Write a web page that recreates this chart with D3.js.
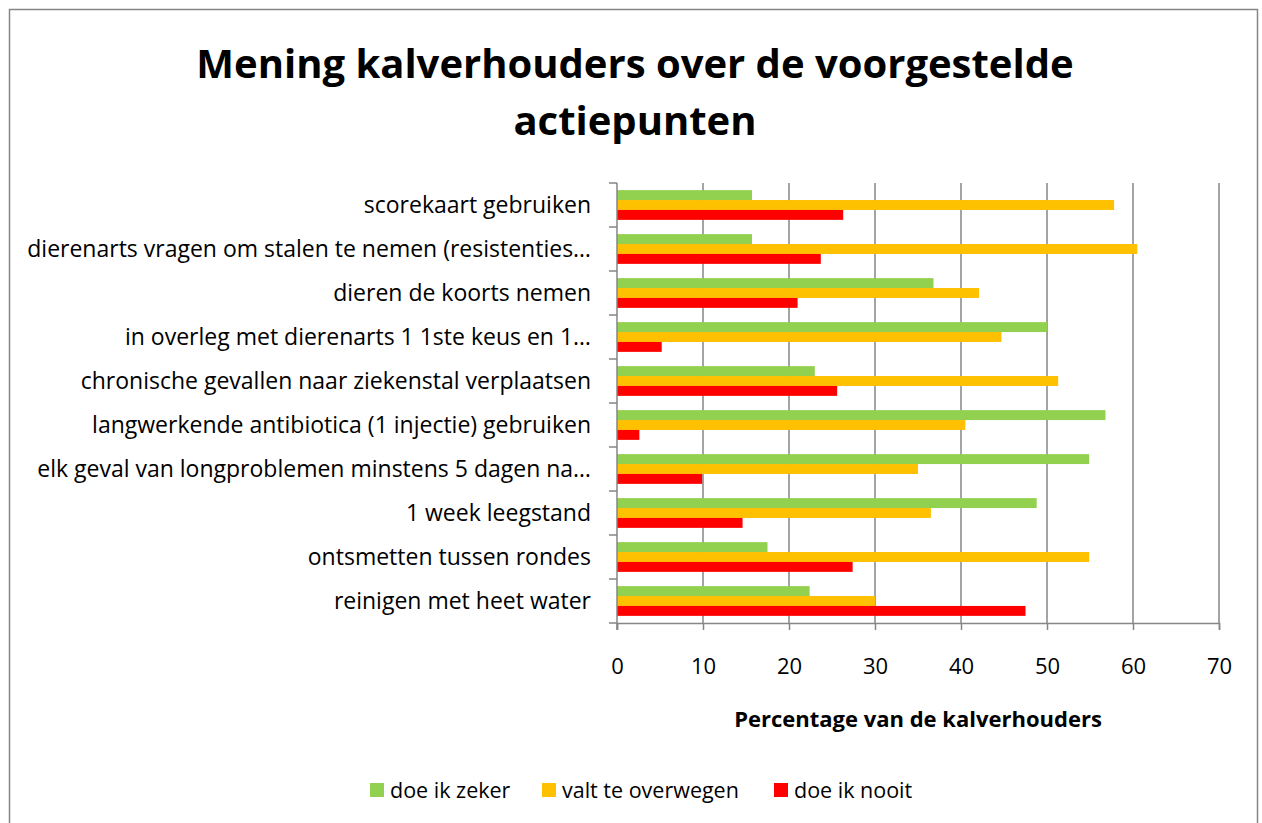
<!DOCTYPE html>
<html>
<head>
<meta charset="utf-8">
<script src="https://cdn.jsdelivr.net/npm/d3@7"></script>
<style>
  body { margin: 0; background: #fff; }
  text { font-family: "Open Sans", sans-serif; fill: #000; }
</style>
</head>
<body>
<div id="chart"></div>
<script>
(function () {

  // categories, top to bottom
  const categories = [
    'scorekaart gebruiken',
    'dierenarts vragen om stalen te nemen (resistenties…',
    'dieren de koorts nemen',
    'in overleg met dierenarts 1 1ste keus en 1…',
    'chronische gevallen naar ziekenstal verplaatsen',
    'langwerkende antibiotica (1 injectie) gebruiken',
    'elk geval van longproblemen minstens 5 dagen na…',
    '1 week leegstand',
    'ontsmetten tussen rondes',
    'reinigen met heet water'
  ]

  const seriesNames = ['doe ik zeker', 'valt te overwegen', 'doe ik nooit']
  const seriesColors = ['#92D050', '#FFC000', '#FF0000']

  const doeIkZeker      = [15.7, 15.7, 36.8, 50.0, 23.0, 56.8, 54.9, 48.8, 17.5, 22.4]
  const valtTeOverwegen = [57.8, 60.5, 42.1, 44.7, 51.3, 40.5, 35.0, 36.5, 54.9, 30.0]
  const doeIkNooit      = [26.3, 23.7, 21.0, 5.2, 25.6, 2.6, 9.9, 14.6, 27.4, 47.5]

  const xTicks = [0, 10, 20, 30, 40, 50, 60, 70]

  const seriesValues = [doeIkZeker, valtTeOverwegen, doeIkNooit]

  const width = 1262
  const height = 823
  const plot = { left: 617, right: 1219, top: 183, bottom: 623 }

  const svg = d3.select('#chart').append('svg')
    .attr('width', width)
    .attr('height', height)

  // outer chart border
  svg.append('rect')
    .attr('x', 9.5)
    .attr('y', 9.5)
    .attr('width', 1248)
    .attr('height', 830)
    .attr('fill', 'none')
    .attr('stroke', '#868686')
    .attr('stroke-width', 1.5)

  const xPositionScale = d3.scaleLinear()
    .domain([0, 70])
    .range([plot.left, plot.right])

  const yPositionScale = d3.scaleBand()
    .domain(categories)
    .range([plot.top, plot.bottom])

  // three bars per category, with space between groups
  const inner = d3.scaleBand()
    .domain(seriesNames)
    .range([0, yPositionScale.bandwidth()])
    .paddingOuter(0.72)

  // gridlines
  svg.append('g')
    .selectAll('line')
    .data(xTicks.slice(1))
    .join('line')
    .attr('x1', d => xPositionScale(d))
    .attr('x2', d => xPositionScale(d))
    .attr('y1', plot.top)
    .attr('y2', plot.bottom)
    .attr('stroke', '#868686')
    .attr('stroke-width', 1.5)

  // bars
  const rows = categories.map((c, i) => seriesNames.map((s, j) => ({
    category: c, series: s, value: seriesValues[j][i], color: seriesColors[j]
  })))

  svg.append('g')
    .selectAll('rect')
    .data(rows.flat())
    .join('rect')
    .attr('x', xPositionScale(0))
    .attr('y', d => yPositionScale(d.category) + inner(d.series))
    .attr('width', d => xPositionScale(d.value) - xPositionScale(0))
    .attr('height', inner.bandwidth())
    .attr('fill', d => d.color)

  // x axis
  const xAxis = d3.axisBottom(xPositionScale)
    .tickValues(xTicks)
    .tickSize(7)
    .tickPadding(28)
  const xg = svg.append('g')
    .attr('transform', 'translate(0,' + plot.bottom + ')')
    .call(xAxis)
  xg.select('.domain').attr('stroke', '#868686').attr('stroke-width', 1.5)
  xg.selectAll('.tick line').attr('stroke', '#868686').attr('stroke-width', 1.5)
  xg.selectAll('text')
    .attr('font-size', 22)
    .attr('font-family', '"Open Sans", sans-serif')
    .attr('fill', '#000')

  // y axis with ticks between categories
  const yg = svg.append('g')
  yg.append('line')
    .attr('x1', plot.left).attr('x2', plot.left)
    .attr('y1', plot.top).attr('y2', plot.bottom + 7)
    .attr('stroke', '#868686').attr('stroke-width', 1.5)
  yg.selectAll('line.tick')
    .data(categories.concat(['end']))
    .join('line')
    .attr('class', 'tick')
    .attr('x1', plot.left - 8).attr('x2', plot.left)
    .attr('y1', (d, i) => i < categories.length ? yPositionScale(d) : plot.bottom)
    .attr('y2', (d, i) => i < categories.length ? yPositionScale(d) : plot.bottom)
    .attr('stroke', '#868686').attr('stroke-width', 1.5)
  yg.selectAll('text')
    .data(categories)
    .join('text')
    .attr('x', plot.left - 26)
    .attr('y', d => yPositionScale(d) + yPositionScale.bandwidth() / 2)
    .attr('dy', '0.35em')
    .attr('text-anchor', 'end')
    .attr('font-size', 23)
    .text(d => d)

  // title
  const title = svg.append('text')
    .attr('x', 635)
    .attr('y', 78)
    .attr('text-anchor', 'middle')
    .attr('font-size', 40)
    .attr('font-weight', 'bold')
  title.append('tspan').attr('x', 635).text('Mening kalverhouders over de voorgestelde')
  title.append('tspan').attr('x', 635).attr('dy', 57).text('actiepunten')

  // axis title
  svg.append('text')
    .attr('x', 918)
    .attr('y', 727)
    .attr('text-anchor', 'middle')
    .attr('font-size', 22)
    .attr('font-weight', 'bold')
    .text('Percentage van de kalverhouders')

  // legend
  const legendX = [370, 542, 774]
  const legend = svg.append('g')
  legend.selectAll('rect')
    .data(seriesNames)
    .join('rect')
    .attr('x', (d, i) => legendX[i])
    .attr('y', 783)
    .attr('width', 14)
    .attr('height', 14)
    .attr('fill', (d, i) => seriesColors[i])
  legend.selectAll('text')
    .data(seriesNames)
    .join('text')
    .attr('x', (d, i) => legendX[i] + 20)
    .attr('y', 790)
    .attr('dy', '0.35em')
    .attr('font-size', 21.5)
    .text(d => d)

})();
</script>
</body>
</html>
